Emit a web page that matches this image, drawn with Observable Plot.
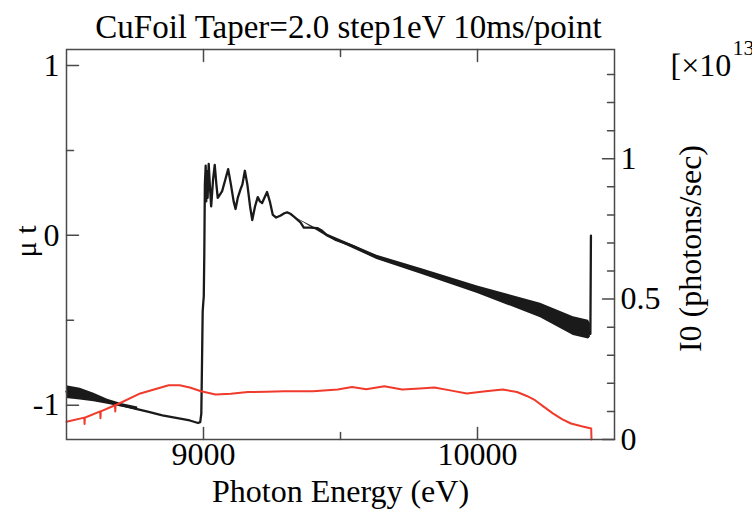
<!DOCTYPE html>
<html>
<head>
<meta charset="utf-8">
<script src="https://cdn.jsdelivr.net/npm/d3@7"></script>
<script src="https://cdn.jsdelivr.net/npm/@observablehq/plot@0.6"></script>
<style>
  html, body { margin: 0; padding: 0; background: white; }
  #chart svg { display: block; }
</style>
</head>
<body>
<div id="chart"></div>
<script>
// ---- data ----
const title = "CuFoil Taper=2.0 step1eV 10ms/point";
const xLabel = "Photon Energy (eV)";
const yLabel = "\u03bc t";
const y2Label = "I0 (photons/sec)";

// mu t (left axis), black
const muE = [8500, 8550, 8600, 8650, 8700, 8750, 8800, 8850, 8900, 8950, 8980, 8988, 8992, 8995, 8997, 8999, 9001, 9003, 9005, 9008, 9010, 9012, 9015, 9019, 9023, 9028, 9035, 9041, 9047, 9052, 9060, 9068, 9080, 9090, 9100, 9110, 9117, 9125, 9135, 9142, 9151, 9160, 9170, 9178, 9188, 9198, 9206, 9214, 9222, 9232, 9242, 9253, 9265, 9280, 9295, 9305, 9317, 9330, 9354, 9366, 9390, 9415, 9430, 9451, 9480, 9524, 9548, 9580, 9633, 9700, 9800, 9900, 10000, 10100, 10200, 10300, 10400, 10412, 10414];
const muT = [-0.92, -0.935, -0.955, -0.98, -1.0, -1.02, -1.04, -1.06, -1.075, -1.09, -1.105, -1.1, -1.05, -0.7, -0.45, -0.4, -0.36, -0.1, 0.3, 0.41, 0.2, 0.38, 0.22, 0.42, 0.3, 0.17, 0.33, 0.415, 0.3, 0.22, 0.24, 0.26, 0.33, 0.39, 0.3, 0.2, 0.155, 0.22, 0.27, 0.3, 0.38, 0.3, 0.17, 0.09, 0.17, 0.225, 0.2, 0.19, 0.22, 0.255, 0.2, 0.12, 0.105, 0.115, 0.13, 0.135, 0.127, 0.11, 0.076, 0.045, 0.045, 0.043, 0.03, 0.0, -0.025, -0.05, -0.065, -0.09, -0.13, -0.165, -0.215, -0.27, -0.32, -0.375, -0.425, -0.48, -0.55, -0.58, -0.002];

// noise band of mu t (lower / upper envelope)
const bandE  = [8500, 8550, 8600, 8650, 8700, 8760];
const bandLo = [-0.96, -0.97, -0.98, -0.995, -1.01, -1.03];
const bandHi = [-0.885, -0.9, -0.93, -0.965, -0.99, -1.01];
const band2E  = [9330, 9451, 9633, 9800, 10000, 10230, 10350, 10405, 10412];
const band2Lo = [0.11, -0.008, -0.142, -0.232, -0.342, -0.485, -0.59, -0.61, -0.6];
const band2Hi = [0.11, 0.008, -0.118, -0.198, -0.298, -0.40, -0.48, -0.50, -0.52];

// I0 (right axis, x1e13), red
const i0E = [8500, 8565, 8566, 8567, 8573, 8623, 8624, 8625, 8677, 8678, 8679, 8769, 8873, 8913, 8950, 8991, 9044, 9100, 9162, 9230, 9293, 9400, 9490, 9542, 9594, 9660, 9725, 9790, 9843, 9900, 9961, 10030, 10092, 10144, 10180, 10210, 10240, 10275, 10310, 10341, 10380, 10415, 10416];
const i0V = [0.063, 0.078, 0.055, 0.078, 0.08, 0.1, 0.076, 0.1, 0.122, 0.1, 0.122, 0.164, 0.193, 0.193, 0.185, 0.172, 0.16, 0.163, 0.169, 0.170, 0.172, 0.172, 0.178, 0.187, 0.179, 0.19, 0.178, 0.182, 0.185, 0.175, 0.164, 0.172, 0.178, 0.169, 0.155, 0.14, 0.118, 0.093, 0.072, 0.057, 0.047, 0.039, 0.0];

// axes
const xDomain = [8500, 10500];
const yDomain = [-1.202, 1.094];
const y2Domain = [0, 1.389];
const xMajor = [9000, 10000];
const xMinor = [9500];
const yMajor = [-1, 0, 1];
const yMinor = [-0.5, 0.5];
const y2Major = [0, 0.5, 1];
const y2Minor = [0.1, 0.2, 0.3, 0.4, 0.6, 0.7, 0.8, 0.9, 1.1, 1.2, 1.3];

// ---- build ----
const toLeft = d3.scaleLinear().domain(y2Domain).range(yDomain);
const mu = muE.map((e, i) => ({e, v: muT[i]}));
const band1 = bandE.map((e, i) => ({e, lo: bandLo[i], hi: bandHi[i]}));
const band2 = band2E.map((e, i) => ({e, lo: band2Lo[i], hi: band2Hi[i]}));
const i0 = i0E.map((e, i) => ({e, v: toLeft(i0V[i])}));

const tickShape = {draw(ctx, l) { ctx.moveTo(0, 0); ctx.lineTo(0, -l); }};
const axisColor = "#4a4a4a";
const font = "'Liberation Serif', 'Times New Roman', serif";
const tick = (data, opts) => Plot.vector(data, {shape: tickShape, anchor: "start", stroke: axisColor, strokeWidth: 1.5, ...opts});

const chart = Plot.plot({
  width: 752,
  height: 517,
  marginLeft: 66,
  marginRight: 138,
  marginTop: 49,
  marginBottom: 78,
  style: {fontFamily: font, background: "white", color: "black"},
  x: {domain: xDomain, axis: null},
  y: {domain: yDomain, axis: null},
  marks: [
    Plot.areaY(band1, {x: "e", y1: "lo", y2: "hi", fill: "#1a1a1a"}),
    Plot.areaY(band2, {x: "e", y1: "lo", y2: "hi", fill: "#1a1a1a"}),
    Plot.line(mu, {x: "e", y: "v", stroke: "#1a1a1a", strokeWidth: 2.3}),
    Plot.line(i0, {x: "e", y: "v", stroke: "#f03a2c", strokeWidth: 2}),
    Plot.frame({stroke: axisColor, strokeWidth: 1.5}),
    // ticks (inward)
    tick(yMajor, {y: d => d, frameAnchor: "left", rotate: 90, length: 12}),
    tick(yMinor, {y: d => d, frameAnchor: "left", rotate: 90, length: 7}),
    tick(xMajor, {x: d => d, frameAnchor: "bottom", rotate: 0, length: 12}),
    tick(xMinor, {x: d => d, frameAnchor: "bottom", rotate: 0, length: 7}),
    tick(xMajor, {x: d => d, frameAnchor: "top", rotate: 180, length: 12}),
    tick(xMinor, {x: d => d, frameAnchor: "top", rotate: 180, length: 7}),
    tick(y2Major, {y: d => toLeft(d), frameAnchor: "right", rotate: -90, length: 12}),
    tick(y2Minor, {y: d => toLeft(d), frameAnchor: "right", rotate: -90, length: 7}),
    // tick labels
    Plot.axisY(yMajor, {anchor: "left", tickSize: 0, tickPadding: 7, fontSize: 32, tickFormat: d => String(d), label: null}),
    Plot.axisX(xMajor, {anchor: "bottom", tickSize: 0, tickPadding: 3, fontSize: 32, tickFormat: d => String(d), label: null}),
    Plot.text(y2Major, {y: d => toLeft(d), text: d => String(d), frameAnchor: "right", dx: 6, textAnchor: "start", fontSize: 32}),
    // titles
    Plot.text([title], {text: d => d, frameAnchor: "top", dx: 8, dy: -35, fontSize: 33}),
    Plot.text([xLabel], {text: d => d, frameAnchor: "bottom", dy: 62, fontSize: 32}),
    Plot.text([yLabel], {text: d => d, frameAnchor: "left", textAnchor: "middle", dx: -40, dy: -3, rotate: -90, fontSize: 30}),
    Plot.text([y2Label], {text: d => d, frameAnchor: "right", textAnchor: "middle", dx: 76, dy: 4, rotate: -90, fontSize: 32}),
    Plot.text(["[\u00d710"], {text: d => d, frameAnchor: "top-right", dx: 56, dy: 4, textAnchor: "start", fontSize: 32}),
    Plot.text(["13"], {text: d => d, frameAnchor: "top-right", dx: 118, dy: -10, textAnchor: "start", fontSize: 22})
  ]
});
document.getElementById("chart").append(chart);
</script>
</body>
</html>
